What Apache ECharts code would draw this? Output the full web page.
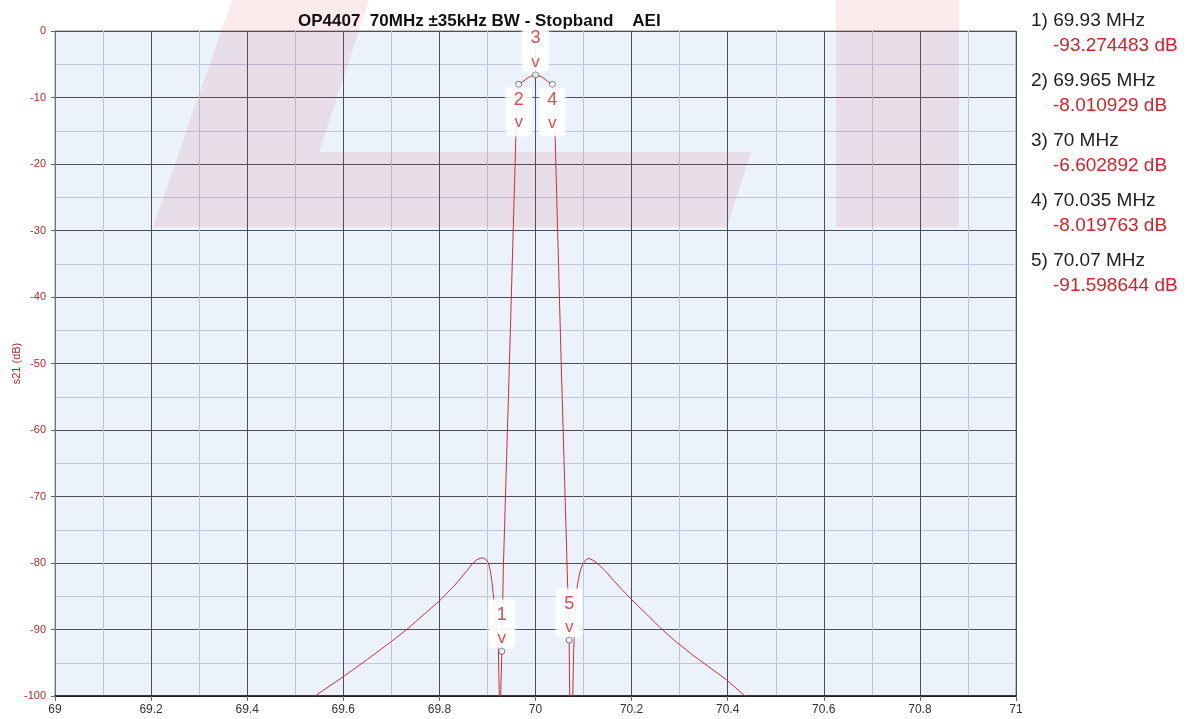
<!DOCTYPE html>
<html>
<head>
<meta charset="utf-8">
<script src="https://cdn.jsdelivr.net/npm/echarts@6/dist/echarts.min.js"></script>
<style>
html,body{margin:0;padding:0;background:#fff;}
#chart{width:1190px;height:719px;}
</style>
</head>
<body>
<div id="chart"></div>
<script>
// ---- data ----
const freqMHz = [69.52,69.541,69.6,69.65,69.7,69.732,69.77,69.8,69.83,69.85,69.86,69.87,69.878,69.888,69.896,69.902,69.906,69.909,69.912,69.917,69.9226,69.9247,69.926,69.9276,69.93,69.933,69.9459,69.9595,69.961,69.963,69.965,69.975,69.985,69.993,70,70.007,70.015,70.025,70.035,70.037,70.039,70.0405,70.0533,70.066,70.07,70.0712,70.074,70.0775,70.0795,70.0825,70.0857,70.089,70.093,70.098,70.104,70.11,70.118,70.126,70.134,70.148,70.162,70.197,70.23,70.259,70.29,70.33,70.37,70.398,70.436,70.46];
const s21dB = [-101.2,-100,-97.1,-94.5,-91.8,-90,-87.6,-85.7,-83.5,-81.8,-80.9,-80.0,-79.5,-79.2,-79.4,-80.0,-81.2,-82.6,-84.6,-88.3,-92.8,-100,-112,-100,-93.27,-81,-49.5,-15,-12,-9.5,-8.01,-7.55,-7.0,-6.72,-6.6,-6.72,-7.0,-7.55,-8.02,-9.5,-12,-15,-49.5,-81,-91.6,-100,-112,-100,-93,-87.5,-84,-82.6,-81.2,-80.2,-79.6,-79.3,-79.5,-79.9,-80.4,-81.4,-82.6,-85.3,-87.6,-89.7,-91.7,-94.0,-96.1,-97.6,-100,-101.4];
const markerFreqs = [69.93, 69.965, 70, 70.035, 70.07];
const markerDb = [-93.274483, -8.010929, -6.602892, -8.019763, -91.598644];
const titleText = 'OP4407  70MHz \u00b135kHz BW - Stopband    AEI';
const yAxisName = 's21 (dB)';

const FONT = "'Liberation Sans', Arial, sans-serif";
const RED = '#d42228';
const chart = echarts.init(document.getElementById('chart'));

const labelPos = ['top','bottom','top','bottom','top'];
const legendItems = [];
markerFreqs.forEach((f, i) => {
  legendItems.push({type:'text', left:1031, top:11 + i*60, z:10,
    style:{text:(i+1) + ') ' + f + ' MHz', font:'19px ' + FONT, fill:'#222'}});
  legendItems.push({type:'text', left:1053, top:36 + i*60, z:10,
    style:{text:markerDb[i].toFixed(6) + ' dB', font:'19px ' + FONT, fill:RED}});
});

const wm = 'rgba(205,45,60,0.1)';
const watermark = [
  {type:'polygon', z:1, silent:true, shape:{points:[[232,0],[369,0],[319,152],[751,152],[727,227],[153,227]]}, style:{fill:wm}},
  {type:'rect', z:1, silent:true, shape:{x:836, y:0, width:123, height:227}, style:{fill:wm}}
];

chart.setOption({
  animation:false,
  backgroundColor:'#fff',
  title:{text:titleText, left:293, top:8, textStyle:{fontSize:17, fontWeight:'bold', color:'#111', fontFamily:FONT}},
  grid:{left:55, top:31, right:174, bottom:23, containLabel:false, outerBoundsMode:'none',
        show:true, backgroundColor:'#ebf2fc', borderColor:'#8a8a8a', borderWidth:1},
  xAxis:{
    type:'value', min:69, max:71, interval:0.2,
    axisLine:{show:true, onZero:false, lineStyle:{color:'#111', width:1.5}},
    axisTick:{show:true, length:5, lineStyle:{color:'#666'}},
    axisLabel:{fontSize:12, color:'#333', margin:8, fontFamily:FONT},
    splitLine:{show:true, lineStyle:{color:'#4e4e58', width:1}},
    minorTick:{show:false, splitNumber:2},
    minorSplitLine:{show:true, lineStyle:{color:'#bcc6d6', width:1}}
  },
  yAxis:{
    type:'value', min:-100, max:0, interval:10,
    name:yAxisName, nameLocation:'middle', nameGap:33, nameMoveOverlap:false,
    nameTextStyle:{fontSize:11, color:'#b02a2a', fontFamily:FONT},
    axisLine:{show:true, lineStyle:{color:'#777', width:1}},
    axisTick:{show:true, length:4, lineStyle:{color:'#666'}},
    axisLabel:{fontSize:11, color:'#b02a2a', margin:9, fontFamily:FONT},
    splitLine:{show:true, lineStyle:{color:'#4e4e58', width:1}},
    minorTick:{show:false, splitNumber:2},
    minorSplitLine:{show:true, lineStyle:{color:'#bcc6d6', width:1}}
  },
  graphic: watermark.concat(legendItems),
  series:[
    {type:'line', z:2, data:freqMHz.map((f,i)=>[f, s21dB[i]]), showSymbol:false, symbol:'none',
     clip:true, lineStyle:{color:'#cc3030', width:1}},
    {type:'scatter', z:5, symbol:'circle', symbolSize:6,
     itemStyle:{color:'#fff', borderColor:'#555', borderWidth:1},
     data:markerFreqs.map((f,i)=>({value:[f, markerDb[i]], name:String(i+1),
        label:{position:labelPos[i], padding: labelPos[i]==='top' ? [0,8,0,8] : [2,8,0,8]}})),
     label:{show:true, distance:0,
       formatter:p => labelPos[p.dataIndex]==='top'
          ? '{n|' + p.name + '}\n{v|v}'
          : '{nb|' + p.name + '}\n{vb|v}',
       backgroundColor:'rgba(255,255,255,0.96)', borderRadius:3,
       shadowColor:'rgba(255,255,255,0.9)', shadowBlur:4,
       rich:{n:{fontSize:18, color:RED, lineHeight:30, fontFamily:FONT, align:'center'},
             v:{fontSize:17, color:RED, lineHeight:18, fontFamily:FONT, align:'center'},
             nb:{fontSize:18, color:RED, lineHeight:20, fontFamily:FONT, align:'center'},
             vb:{fontSize:17, color:RED, lineHeight:26, fontFamily:FONT, align:'center'}}}
    }
  ]
});
</script>
</body>
</html>
